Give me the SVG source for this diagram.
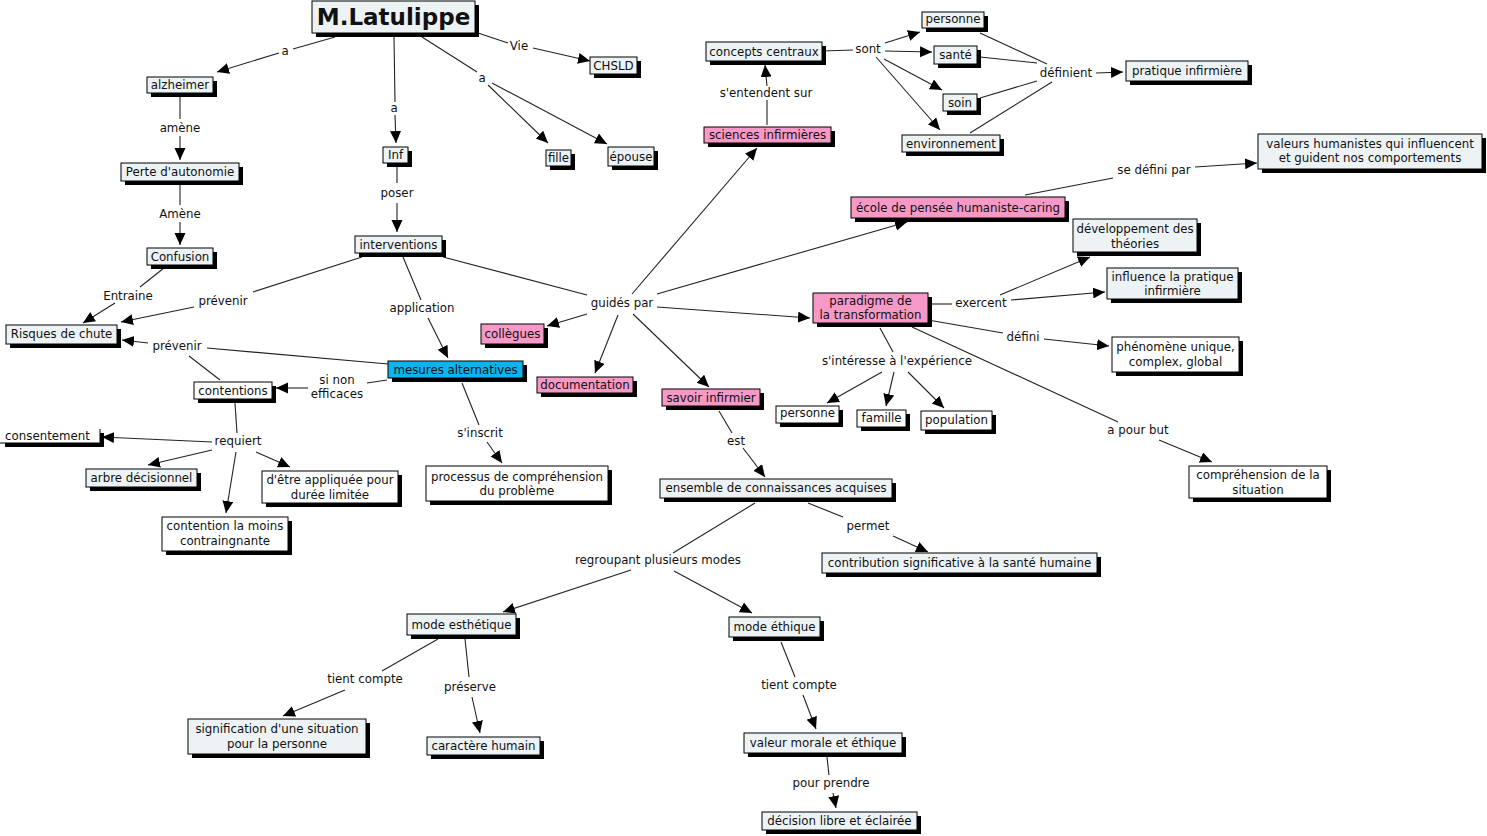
<svg xmlns="http://www.w3.org/2000/svg" width="1487" height="836" viewBox="0 0 1487 836">
<style>
text{font-family:"DejaVu Sans",Verdana,sans-serif;font-size:11.8px;fill:#111;text-anchor:middle}
.t{font-size:23px;font-weight:bold}
.sh{fill:#000}
.n{fill:#edf3f5;stroke:#000;stroke-width:1}
.w{fill:#fff;stroke:#000;stroke-width:1}
.p{fill:#f799c6;stroke:#000;stroke-width:1}
.c{fill:#0bb4ee;stroke:#000;stroke-width:1}
#links line{stroke:#222;stroke-width:1.1;fill:none}
#links line.a{marker-end:url(#ah)}
</style>
<defs>
<marker id="ah" markerUnits="userSpaceOnUse" markerWidth="13" markerHeight="12" refX="12" refY="5.5" orient="auto">
<path d="M0,0 L12,5.5 L0,11 z" fill="#000"/>
</marker>
</defs>
<rect width="1487" height="836" fill="#fff"/>
<g id="links">
<line x1="335" y1="37" x2="293" y2="49"/><line class="a" x1="279" y1="53" x2="217" y2="72"/>
<line x1="394" y1="37" x2="395" y2="102"/><line class="a" x1="395" y1="115" x2="396" y2="143"/>
<line x1="478" y1="33" x2="508" y2="43"/><line class="a" x1="533" y1="48" x2="590" y2="61"/>
<line x1="422" y1="37" x2="477" y2="72"/><line class="a" x1="488" y1="85" x2="548" y2="143"/><line class="a" x1="492" y1="83" x2="607" y2="144"/>
<line x1="180" y1="93" x2="180" y2="119"/><line class="a" x1="180" y1="136" x2="180" y2="160"/>
<line x1="180" y1="181" x2="180" y2="205"/><line class="a" x1="180" y1="222" x2="180" y2="245"/>
<line x1="164" y1="268" x2="140" y2="287"/><line class="a" x1="115" y1="303" x2="83" y2="323"/>
<line x1="397" y1="167" x2="397" y2="183"/><line class="a" x1="397" y1="203" x2="397" y2="232"/>
<line x1="362" y1="257" x2="253" y2="292"/><line class="a" x1="194" y1="307" x2="121" y2="322"/>
<line x1="403" y1="257" x2="421" y2="300"/><line class="a" x1="428" y1="318" x2="448" y2="358"/>
<line x1="443" y1="257" x2="587" y2="295"/>
<line class="a" x1="632" y1="294" x2="757" y2="148"/>
<line class="a" x1="657" y1="294" x2="907" y2="222"/>
<line class="a" x1="657" y1="307" x2="810" y2="318"/>
<line class="a" x1="587" y1="314" x2="547" y2="326"/>
<line class="a" x1="618" y1="315" x2="595" y2="373"/>
<line class="a" x1="633" y1="314" x2="709" y2="387"/>
<line x1="767" y1="125" x2="767" y2="100"/><line class="a" x1="767" y1="86" x2="765" y2="65"/>
<line x1="822" y1="51" x2="853" y2="50"/>
<line class="a" x1="885" y1="43" x2="920" y2="32"/>
<line class="a" x1="885" y1="51" x2="932" y2="52"/>
<line class="a" x1="884" y1="59" x2="942" y2="90"/>
<line class="a" x1="876" y1="57" x2="940" y2="130"/>
<line x1="980" y1="33" x2="1047" y2="64"/>
<line x1="980" y1="57" x2="1037" y2="63"/>
<line x1="980" y1="98" x2="1037" y2="81"/>
<line x1="970" y1="133" x2="1052" y2="82"/>
<line class="a" x1="1096" y1="73" x2="1123" y2="72"/>
<line x1="1025" y1="195" x2="1113" y2="178"/><line class="a" x1="1195" y1="167" x2="1257" y2="163"/>
<line x1="930" y1="304" x2="952" y2="304"/>
<line class="a" x1="1000" y1="295" x2="1090" y2="257"/>
<line class="a" x1="1011" y1="300" x2="1105" y2="292"/>
<line x1="928" y1="320" x2="1003" y2="333"/><line class="a" x1="1044" y1="339" x2="1109" y2="346"/>
<line x1="912" y1="327" x2="1118" y2="422"/><line class="a" x1="1159" y1="440" x2="1212" y2="462"/>
<line x1="880" y1="328" x2="893" y2="352"/>
<line class="a" x1="882" y1="372" x2="827" y2="403"/>
<line class="a" x1="894" y1="372" x2="886" y2="406"/>
<line class="a" x1="908" y1="372" x2="944" y2="408"/>
<line x1="719" y1="411" x2="732" y2="433"/><line class="a" x1="743" y1="448" x2="765" y2="477"/>
<line x1="808" y1="503" x2="843" y2="517"/><line class="a" x1="893" y1="536" x2="928" y2="552"/>
<line x1="755" y1="503" x2="673" y2="553"/>
<line class="a" x1="631" y1="570" x2="503" y2="612"/>
<line class="a" x1="674" y1="571" x2="752" y2="613"/>
<line x1="438" y1="639" x2="382" y2="671"/><line class="a" x1="345" y1="690" x2="283" y2="716"/>
<line x1="465" y1="639" x2="469" y2="677"/><line class="a" x1="472" y1="697" x2="480" y2="733"/>
<line x1="781" y1="642" x2="795" y2="677"/><line class="a" x1="803" y1="695" x2="816" y2="729"/>
<line x1="827" y1="757" x2="829" y2="775"/><line class="a" x1="833" y1="793" x2="836" y2="808"/>
<line x1="388" y1="364" x2="207" y2="348"/>
<line x1="220" y1="380" x2="189" y2="356"/>
<line class="a" x1="148" y1="343" x2="122" y2="340"/>
<line x1="387" y1="380" x2="367" y2="383"/><line class="a" x1="308" y1="388" x2="276" y2="388"/>
<line x1="462" y1="383" x2="479" y2="425"/><line class="a" x1="487" y1="442" x2="502" y2="463"/>
<line x1="235" y1="403" x2="237" y2="433"/>
<line class="a" x1="212" y1="442" x2="102" y2="437"/>
<line class="a" x1="212" y1="450" x2="148" y2="465"/>
<line class="a" x1="236" y1="452" x2="226" y2="513"/>
<line class="a" x1="256" y1="452" x2="290" y2="467"/>
</g>
<g id="labels">
<text x="285" y="55">a</text>
<text x="394" y="112">a</text>
<text x="519" y="50">Vie</text>
<text x="482" y="82">a</text>
<text x="180" y="132">amène</text>
<text x="180" y="218">Amène</text>
<text x="397" y="197">poser</text>
<text x="128" y="300">Entraine</text>
<text x="223" y="305">prévenir</text>
<text x="422" y="312">application</text>
<text x="622" y="307">guidés par</text>
<text x="177" y="350">prévenir</text>
<text x="337" y="384">si non</text>
<text x="337" y="398">efficaces</text>
<text x="480" y="437">s'inscrit</text>
<text x="238" y="445">requiert</text>
<text x="766" y="97">s'entendent sur</text>
<text x="868" y="53">sont</text>
<text x="1066" y="77">définient</text>
<text x="1154" y="174">se défini par</text>
<text x="981" y="307">exercent</text>
<text x="1023" y="341">défini</text>
<text x="1138" y="434">a pour but</text>
<text x="897" y="365">s'intéresse à l'expérience</text>
<text x="736" y="445">est</text>
<text x="868" y="530">permet</text>
<text x="658" y="564">regroupant plusieurs modes</text>
<text x="365" y="683">tient compte</text>
<text x="470" y="691">préserve</text>
<text x="799" y="689">tient compte</text>
<text x="831" y="787">pour prendre</text>
</g>
<g id="n-title"><rect class="sh" x="316" y="5" width="163" height="32"/><rect class="n" x="312" y="1" width="163" height="32"/><text class="t" x="393.5" y="25">M.Latulippe</text></g>
<g id="n-alzheimer"><rect class="sh" x="151" y="81" width="66" height="16"/><rect class="n" x="147" y="77" width="66" height="16"/><text x="180" y="89">alzheimer</text></g>
<g id="n-perte"><rect class="sh" x="125" y="167" width="118" height="18"/><rect class="n" x="121" y="163" width="118" height="18"/><text x="180" y="176">Perte d'autonomie</text></g>
<g id="n-confusion"><rect class="sh" x="151" y="252" width="66" height="17"/><rect class="n" x="147" y="248" width="66" height="17"/><text x="180" y="261">Confusion</text></g>
<g id="n-inf"><rect class="sh" x="387" y="151" width="25" height="16"/><rect class="n" x="383" y="147" width="25" height="16"/><text x="395.5" y="159">Inf</text></g>
<g id="n-interventions"><rect class="sh" x="359" y="240" width="87" height="17"/><rect class="n" x="355" y="236" width="87" height="17"/><text x="398.5" y="249">interventions</text></g>
<g id="n-chsld"><rect class="sh" x="594" y="61" width="47" height="17"/><rect class="n" x="590" y="57" width="47" height="17"/><text x="613.5" y="70">CHSLD</text></g>
<g id="n-fille"><rect class="sh" x="550" y="154" width="25" height="16"/><rect class="n" x="546" y="150" width="25" height="16"/><text x="558.5" y="162">fille</text></g>
<g id="n-epouse"><rect class="sh" x="612" y="151" width="46" height="19"/><rect class="n" x="608" y="147" width="46" height="19"/><text x="631" y="161">épouse</text></g>
<g id="n-concepts"><rect class="sh" x="710" y="46" width="116" height="19"/><rect class="n" x="706" y="42" width="116" height="19"/><text x="764" y="56">concepts centraux</text></g>
<g id="n-sciences"><rect class="sh" x="708" y="131" width="127" height="16"/><rect class="p" x="704" y="127" width="127" height="16"/><text x="767.5" y="139">sciences infirmières</text></g>
<g id="n-personne1"><rect class="sh" x="926" y="16" width="62" height="16"/><rect class="n" x="922" y="12" width="62" height="16"/><text x="953" y="23">personne</text></g>
<g id="n-sante"><rect class="sh" x="938" y="50" width="43" height="18"/><rect class="n" x="934" y="46" width="43" height="18"/><text x="955.5" y="59">santé</text></g>
<g id="n-soin"><rect class="sh" x="947" y="98" width="34" height="17"/><rect class="n" x="943" y="94" width="34" height="17"/><text x="960" y="107">soin</text></g>
<g id="n-environnement"><rect class="sh" x="906" y="139" width="98" height="17"/><rect class="n" x="902" y="135" width="98" height="17"/><text x="951" y="148">environnement</text></g>
<g id="n-pratique"><rect class="sh" x="1130" y="65" width="122" height="20"/><rect class="n" x="1126" y="61" width="122" height="20"/><text x="1187" y="75">pratique infirmière</text></g>
<g id="n-ecole"><rect class="sh" x="855" y="201" width="214" height="21"/><rect class="p" x="851" y="197" width="214" height="21"/><text x="958" y="212">école de pensée humaniste-caring</text></g>
<g id="n-valeurs"><rect class="sh" x="1262" y="138" width="224" height="35"/><rect class="n" x="1258" y="134" width="224" height="35"/><text x="1370" y="148">valeurs humanistes qui influencent</text><text x="1370" y="162">et guident nos comportements</text></g>
<g id="n-developpement"><rect class="sh" x="1077" y="223" width="124" height="33"/><rect class="n" x="1073" y="219" width="124" height="33"/><text x="1135" y="233">développement des</text><text x="1135" y="248">théories</text></g>
<g id="n-influence"><rect class="sh" x="1111" y="272" width="131" height="31"/><rect class="n" x="1107" y="268" width="131" height="31"/><text x="1172.5" y="281">influence la pratique</text><text x="1172.5" y="295">infirmière</text></g>
<g id="n-phenomene"><rect class="sh" x="1116" y="341" width="127" height="35"/><rect class="w" x="1112" y="337" width="127" height="35"/><text x="1175.5" y="351">phénomène unique,</text><text x="1175.5" y="366">complex, global</text></g>
<g id="n-comprehension"><rect class="sh" x="1193" y="470" width="138" height="32"/><rect class="w" x="1189" y="466" width="138" height="32"/><text x="1258" y="479">compréhension de la</text><text x="1258" y="494">situation</text></g>
<g id="n-paradigme"><rect class="sh" x="817" y="297" width="115" height="30"/><rect class="p" x="813" y="293" width="115" height="30"/><text x="870.5" y="305">paradigme de</text><text x="870.5" y="319">la transformation</text></g>
<g id="n-personne2"><rect class="sh" x="780" y="410" width="63" height="17"/><rect class="w" x="776" y="406" width="63" height="17"/><text x="807.5" y="417">personne</text></g>
<g id="n-famille"><rect class="sh" x="861" y="414" width="49" height="17"/><rect class="w" x="857" y="410" width="49" height="17"/><text x="881.5" y="422">famille</text></g>
<g id="n-population"><rect class="sh" x="925" y="415" width="71" height="19"/><rect class="w" x="921" y="411" width="71" height="19"/><text x="956.5" y="424">population</text></g>
<g id="n-savoir"><rect class="sh" x="666" y="393" width="98" height="17"/><rect class="p" x="662" y="389" width="98" height="17"/><text x="711" y="402">savoir infirmier</text></g>
<g id="n-documentation"><rect class="sh" x="541" y="381" width="96" height="16"/><rect class="p" x="537" y="377" width="96" height="16"/><text x="585" y="389">documentation</text></g>
<g id="n-collegues"><rect class="sh" x="485" y="328" width="63" height="20"/><rect class="p" x="481" y="324" width="63" height="20"/><text x="512.5" y="338">collègues</text></g>
<g id="n-mesures"><rect class="sh" x="392" y="365" width="135" height="17"/><rect class="c" x="388" y="361" width="135" height="17"/><text x="455.5" y="374">mesures alternatives</text></g>
<g id="n-processus"><rect class="sh" x="430" y="470" width="182" height="35"/><rect class="w" x="426" y="466" width="182" height="35"/><text x="517" y="481">processus de compréhension</text><text x="517" y="495">du problème</text></g>
<g id="n-ensemble"><rect class="sh" x="664" y="483" width="232" height="19"/><rect class="n" x="660" y="479" width="232" height="19"/><text x="776" y="492">ensemble de connaissances acquises</text></g>
<g id="n-contribution"><rect class="sh" x="826" y="557" width="275" height="20"/><rect class="n" x="822" y="553" width="275" height="20"/><text x="959.5" y="567">contribution significative à la santé humaine</text></g>
<g id="n-risques"><rect class="sh" x="10" y="329" width="111" height="19"/><rect class="n" x="6" y="325" width="111" height="19"/><text x="61.5" y="338">Risques de chute</text></g>
<g id="n-contentions"><rect class="sh" x="198" y="386" width="78" height="17"/><rect class="w" x="194" y="382" width="78" height="17"/><text x="233" y="395">contentions</text></g>
<g id="n-consentement"><rect class="sh" x="5" y="433" width="99" height="14"/><rect x="0" y="429" width="100" height="14" fill="#fff"/><path d="M100,429 V443 H0" fill="none" stroke="#000"/><text x="47.5" y="440">consentement</text></g>
<g id="n-arbre"><rect class="sh" x="90" y="473" width="111" height="18"/><rect class="n" x="86" y="469" width="111" height="18"/><text x="141.5" y="482">arbre décisionnel</text></g>
<g id="n-duree"><rect class="sh" x="266" y="475" width="136" height="32"/><rect class="w" x="262" y="471" width="136" height="32"/><text x="330" y="484">d'être appliquée pour</text><text x="330" y="499">durée limitée</text></g>
<g id="n-moins"><rect class="sh" x="166" y="521" width="126" height="34"/><rect class="w" x="162" y="517" width="126" height="34"/><text x="225" y="530">contention la moins</text><text x="225" y="545">contraingnante</text></g>
<g id="n-esthetique"><rect class="sh" x="411" y="618" width="109" height="21"/><rect class="n" x="407" y="614" width="109" height="21"/><text x="461.5" y="629">mode esthétique</text></g>
<g id="n-signification"><rect class="sh" x="192" y="723" width="178" height="35"/><rect class="n" x="188" y="719" width="178" height="35"/><text x="277" y="733">signification d'une situation</text><text x="277" y="748">pour la personne</text></g>
<g id="n-caractere"><rect class="sh" x="431" y="741" width="113" height="18"/><rect class="n" x="427" y="737" width="113" height="18"/><text x="483.5" y="750">caractère humain</text></g>
<g id="n-ethique"><rect class="sh" x="733" y="621" width="91" height="20"/><rect class="n" x="729" y="617" width="91" height="20"/><text x="774.5" y="631">mode éthique</text></g>
<g id="n-valeur"><rect class="sh" x="748" y="737" width="158" height="20"/><rect class="n" x="744" y="733" width="158" height="20"/><text x="823" y="747">valeur morale et éthique</text></g>
<g id="n-decision"><rect class="sh" x="766" y="816" width="155" height="18"/><rect class="n" x="762" y="812" width="155" height="18"/><text x="839.5" y="825">décision libre et éclairée</text></g>
</svg>
